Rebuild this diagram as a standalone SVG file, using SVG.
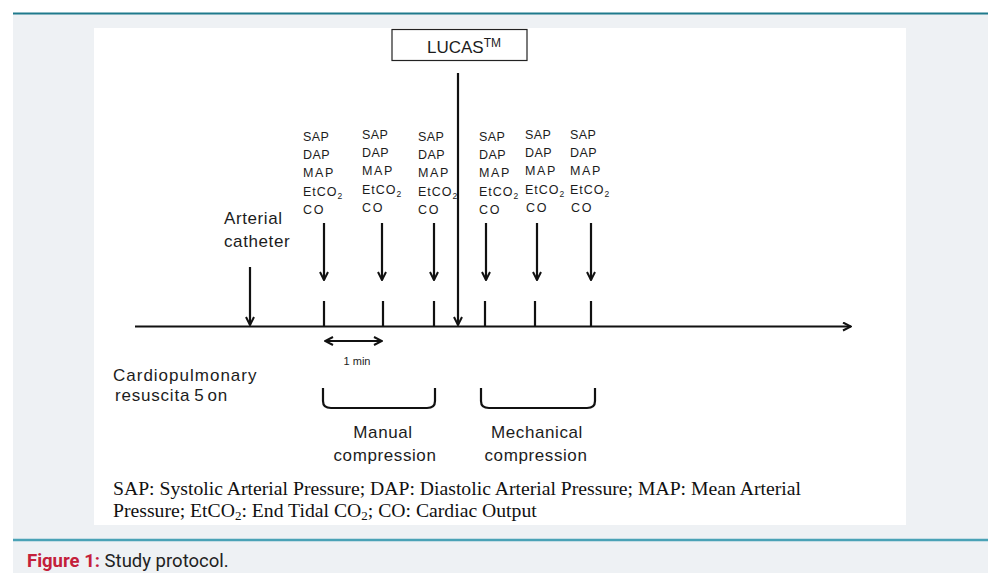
<svg xmlns="http://www.w3.org/2000/svg" width="990" height="573" viewBox="0 0 990 573">
<defs>
<style>
.t{font-family:"Liberation Sans",Arial,sans-serif;fill:#1c1c1c;}
.m{font-size:12.5px;letter-spacing:0.4px;}
.w{letter-spacing:1.6px;}
.e{letter-spacing:1px;}
.l{font-size:17px;letter-spacing:0.6px;}
.ln{stroke:#111;stroke-width:2.2;fill:none;}
.f{font-family:"Liberation Serif","Times New Roman",serif;font-size:19.7px;fill:#111;}
.cap{font-family:Roboto,"Liberation Sans",sans-serif;font-size:18.5px;}
</style>
<marker id="ah" viewBox="0 0 10 10" refX="9" refY="5" markerWidth="10" markerHeight="10" markerUnits="userSpaceOnUse" orient="auto-start-reverse">
<path d="M1,1 L9,5 L1,9" fill="none" stroke="#111" stroke-width="2"/>
</marker>
</defs>
<rect x="0" y="0" width="990" height="573" fill="#ffffff"/>
<rect x="13" y="13" width="975" height="560" fill="#eef1f4"/>
<line x1="13" y1="13.5" x2="988" y2="13.5" stroke="#1f7a8c" stroke-width="2"/>
<rect x="94" y="28" width="812" height="497" fill="#ffffff"/>
<line x1="13" y1="540" x2="988" y2="540" stroke="#4aa2b6" stroke-width="2.5"/>

<g id="lucas">
<rect x="392" y="29.5" width="135" height="31" fill="#fff" stroke="#222" stroke-width="1.2"/>
<text class="t" x="427" y="53" font-size="17">LUCAS<tspan font-size="12" dy="-6">TM</tspan></text>
</g>

<g id="connectors">
<line class="ln" x1="135" y1="326.5" x2="851" y2="326.5" stroke-width="2.5" marker-end="url(#ah)"/>
<line class="ln" x1="458" y1="73" x2="458" y2="325" marker-end="url(#ah)"/>
<line class="ln" x1="250" y1="267" x2="250" y2="325" marker-end="url(#ah)"/>
<line class="ln" x1="324" y1="223" x2="324" y2="280" marker-end="url(#ah)"/>
<line class="ln" x1="382" y1="223" x2="382" y2="280" marker-end="url(#ah)"/>
<line class="ln" x1="434" y1="223" x2="434" y2="280" marker-end="url(#ah)"/>
<line class="ln" x1="486" y1="223" x2="486" y2="280" marker-end="url(#ah)"/>
<line class="ln" x1="537" y1="223" x2="537" y2="280" marker-end="url(#ah)"/>
<line class="ln" x1="591" y1="223" x2="591" y2="280" marker-end="url(#ah)"/>
<line class="ln" x1="324" y1="301" x2="324" y2="326"/>
<line class="ln" x1="383" y1="301" x2="383" y2="326"/>
<line class="ln" x1="434" y1="301" x2="434" y2="326"/>
<line class="ln" x1="485" y1="301" x2="485" y2="326"/>
<line class="ln" x1="535" y1="301" x2="535" y2="326"/>
<line class="ln" x1="591" y1="301" x2="591" y2="326"/>
<line class="ln" x1="325" y1="341" x2="382" y2="341" marker-start="url(#ah)" marker-end="url(#ah)"/>
<path class="ln" d="M323,388 L323,401 Q323,408 331,408 L427,408 Q435,408 435,401 L435,388"/>
<path class="ln" d="M481,388 L481,401 Q481,408 489,408 L587,408 Q595,408 595,401 L595,388"/>
</g>

<g id="col1" class="t m">
<text x="303" y="141">SAP</text><text x="303" y="159">DAP</text><text class="w" x="303" y="177">MAP</text>
<text class="e" x="303" y="196">EtCO<tspan font-size="8.5" dy="3">2</tspan></text><text class="w" x="303" y="214">CO</text>
</g>
<g id="col2" class="t m">
<text x="362" y="139">SAP</text><text x="362" y="157">DAP</text><text class="w" x="362" y="175">MAP</text>
<text class="e" x="362" y="194">EtCO<tspan font-size="8.5" dy="3">2</tspan></text><text class="w" x="362" y="212">CO</text>
</g>
<g id="col3" class="t m">
<text x="418" y="141">SAP</text><text x="418" y="159">DAP</text><text class="w" x="418" y="177">MAP</text>
<text class="e" x="418" y="196">EtCO<tspan font-size="8.5" dy="3">2</tspan></text><text class="w" x="418" y="214">CO</text>
</g>
<g id="col4" class="t m">
<text x="479" y="141">SAP</text><text x="479" y="159">DAP</text><text class="w" x="479" y="177">MAP</text>
<text class="e" x="479" y="196">EtCO<tspan font-size="8.5" dy="3">2</tspan></text><text class="w" x="479" y="214">CO</text>
</g>
<g id="col5" class="t m">
<text x="525" y="139">SAP</text><text x="525" y="157">DAP</text><text class="w" x="525" y="175">MAP</text>
<text class="e" x="525" y="194">EtCO<tspan font-size="8.5" dy="3">2</tspan></text><text class="w" x="526" y="212">CO</text>
</g>
<g id="col6" class="t m">
<text x="570" y="139">SAP</text><text x="570" y="157">DAP</text><text class="w" x="570" y="175">MAP</text>
<text class="e" x="570" y="194">EtCO<tspan font-size="8.5" dy="3">2</tspan></text><text class="w" x="571" y="212">CO</text>
</g>

<g id="arterial" class="t l">
<text x="224" y="224">Arterial</text>
<text x="224" y="247">catheter</text>
</g>
<g id="onemin" class="t">
<text x="357" y="365" font-size="11" text-anchor="middle">1 min</text>
</g>
<g id="cpr" class="t l">
<text x="113" y="381" letter-spacing="1">Cardiopulmonary</text>
<text x="115" y="401" letter-spacing="0.8">resuscita<tspan dx="4">5</tspan><tspan dx="3">on</tspan></text>
</g>
<g id="manual" class="t l" text-anchor="middle">
<text x="383" y="438">Manual</text>
<text x="385" y="461">compression</text>
</g>
<g id="mechanical" class="t l" text-anchor="middle">
<text x="537" y="438">Mechanical</text>
<text x="536" y="461">compression</text>
</g>
<g id="legend">
<text class="f" x="113" y="495">SAP: Systolic Arterial Pressure; DAP: Diastolic Arterial Pressure; MAP: Mean Arterial</text>
<text class="f" x="113" y="517">Pressure; EtCO<tspan font-size="13" dy="3">2</tspan><tspan dy="-3">: End Tidal CO</tspan><tspan font-size="13" dy="3">2</tspan><tspan dy="-3">; CO: Cardiac Output</tspan></text>
</g>
<g id="caption" class="cap">
<text x="27" y="567"><tspan font-weight="bold" fill="#c4203a">Figure 1:</tspan><tspan fill="#222"> Study protocol.</tspan></text>
</g>
</svg>
